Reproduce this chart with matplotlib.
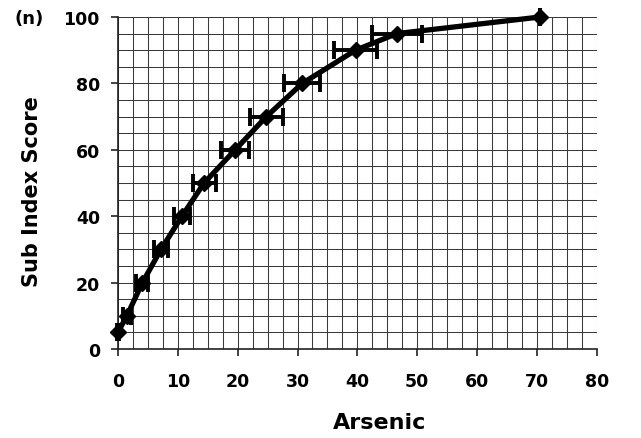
import numpy as np
import matplotlib
matplotlib.use("Agg")
import matplotlib.pyplot as plt
from matplotlib.ticker import MultipleLocator

# values
arsenic = [0.0, 1.5, 4.1, 7.2, 10.7, 14.4, 19.6, 24.8, 30.8, 39.7, 46.6, 70.5]
score = [5, 10, 20, 30, 40, 50, 60, 70, 80, 90, 95, 100]
arsenic_err = [0.1, 0.7, 1.0, 1.2, 1.4, 1.9, 2.3, 2.8, 3.0, 3.6, 4.2, 0.0]

x_ticks = [0, 10, 20, 30, 40, 50, 60, 70, 80]
y_ticks = [0, 20, 40, 60, 80, 100]

plt.rcParams['font.family'] = ['DejaVu Sans']
plt.rcParams['font.weight'] = 'bold'

fig = plt.figure(figsize=(6.41, 4.39), dpi=100)
ax = fig.add_axes([0.184, 0.203, 0.747, 0.756])

ax.set_xlim(0, 80)
ax.set_ylim(0, 100)
ax.xaxis.set_minor_locator(MultipleLocator(2.5))
ax.yaxis.set_minor_locator(MultipleLocator(5))
ax.set_xticks(x_ticks)
ax.set_yticks(y_ticks)
ax.grid(which='both', color='#3a3a3a', linewidth=0.75)
ax.set_axisbelow(True)

for s in ['top', 'right']:
    ax.spines[s].set_visible(False)
for s in ['left', 'bottom']:
    ax.spines[s].set_color('#222222')
    ax.spines[s].set_linewidth(1.2)

ax.tick_params(which='major', direction='out', length=5, width=1.2,
               color='#222222', labelsize=12.5)
ax.tick_params(axis='x', which='major', pad=12)
ax.tick_params(axis='y', which='major', pad=8)
ax.tick_params(which='minor', length=0)

ax.errorbar(arsenic, score, xerr=arsenic_err, fmt='none', ecolor='black',
            elinewidth=2.8, capsize=6.5, capthick=2.8, zorder=3, clip_on=False)
ax.plot(arsenic, score, color='black', linewidth=3.8, marker='D',
        markersize=8.5, zorder=4, clip_on=False)

xl = ax.set_xlabel('Arsenic', fontsize=16, fontweight='bold')
ax.xaxis.set_label_coords(0.547, -0.22)
xl.set_va('center')
yl = ax.set_ylabel('Sub Index Score', fontsize=15, fontweight='bold')
ax.yaxis.set_label_coords(-0.18, 0.476)
yl.set_va('center')
fig.text(15 / 641, 1 - 19 / 439, '(n)', fontsize=13, fontweight='bold',
         va='center', ha='left')

fig.savefig('out.png', dpi=100)
